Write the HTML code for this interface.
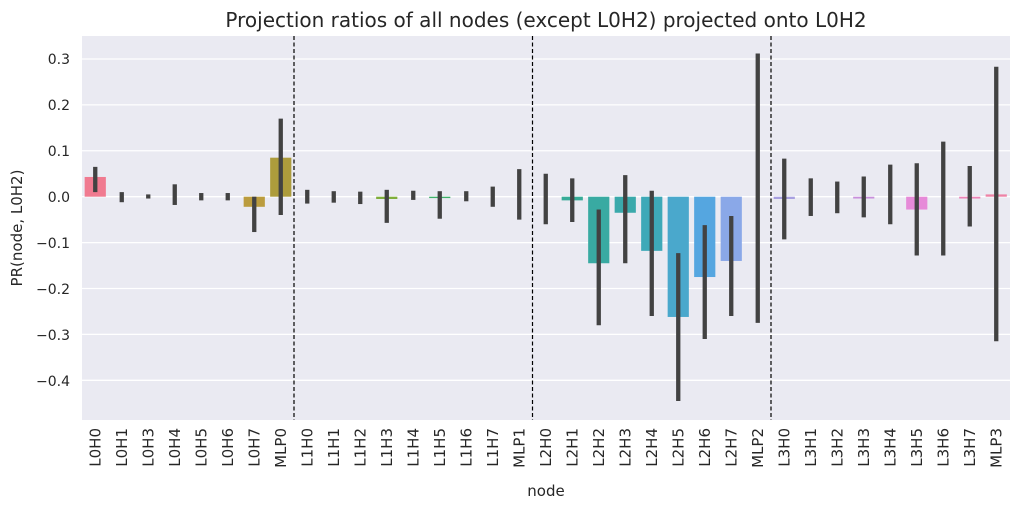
<!DOCTYPE html>
<html><head><meta charset="utf-8"><style>
html,body{margin:0;padding:0;background:#fff;}
svg{display:block;font-family:"DejaVu Sans","Liberation Sans",sans-serif;}
</style></head><body>
<svg width="1020" height="509" viewBox="0 0 1020 509">
<rect x="82" y="36" width="928" height="384" fill="#eaeaf2"/>
<g stroke="#fff" stroke-width="1.3">
<line x1="82" x2="1010" y1="58.98" y2="58.98"/>
<line x1="82" x2="1010" y1="104.88" y2="104.88"/>
<line x1="82" x2="1010" y1="150.78" y2="150.78"/>
<line x1="82" x2="1010" y1="196.7" y2="196.7"/>
<line x1="82" x2="1010" y1="242.6" y2="242.6"/>
<line x1="82" x2="1010" y1="288.5" y2="288.5"/>
<line x1="82" x2="1010" y1="334.4" y2="334.4"/>
<line x1="82" x2="1010" y1="380.3" y2="380.3"/>
</g>
<g font-size="14" fill="#262626" text-anchor="end">
<text x="70" y="64">0.3</text>
<text x="70" y="110">0.2</text>
<text x="70" y="156">0.1</text>
<text x="70" y="202">0.0</text>
<text x="70" y="248">−0.1</text>
<text x="70" y="294">−0.2</text>
<text x="70" y="340">−0.3</text>
<text x="70" y="386">−0.4</text>
</g>
<g transform="translate(0,196.7) scale(1,-459)" stroke-width="1" vector-effect="non-scaling-stroke">
<rect x="84.65" y="0" width="21.2" height="0.043" fill="#f07a90"/>
<rect x="243.65" y="-0.022" width="21.2" height="0.022" fill="#bb9c3e"/>
<rect x="270.15" y="0" width="21.2" height="0.085" fill="#ad9c3c"/>
<rect x="376.15" y="-0.005" width="21.2" height="0.005" fill="#7fae3c"/>
<rect x="429.15" y="-0.003" width="21.2" height="0.003" fill="#3eb06a"/>
<rect x="561.65" y="-0.008" width="21.2" height="0.008" fill="#37ab98"/>
<rect x="588.15" y="-0.145" width="21.2" height="0.145" fill="#39aaa2"/>
<rect x="614.65" y="-0.035" width="21.2" height="0.035" fill="#3aa9ab"/>
<rect x="641.15" y="-0.118" width="21.2" height="0.118" fill="#3ea9b8"/>
<rect x="667.65" y="-0.262" width="21.2" height="0.262" fill="#4aa8cc"/>
<rect x="694.15" y="-0.175" width="21.2" height="0.175" fill="#55a6e0"/>
<rect x="720.65" y="-0.14" width="21.2" height="0.14" fill="#8aa8e8"/>
<rect x="773.65" y="-0.005" width="21.2" height="0.005" fill="#a8a0e0"/>
<rect x="853.15" y="-0.004" width="21.2" height="0.004" fill="#c890dc"/>
<rect x="906.15" y="-0.028" width="21.2" height="0.028" fill="#e68ad8"/>
<rect x="959.15" y="-0.004" width="21.2" height="0.004" fill="#ec84b8"/>
<rect x="985.65" y="0" width="21.2" height="0.005" fill="#ee82a6"/>
</g>
<g stroke="#000" stroke-width="1.2" stroke-dasharray="4,2.5">
<line x1="294" x2="294" y1="36" y2="420"/>
<line x1="532.5" x2="532.5" y1="36" y2="420"/>
<line x1="771" x2="771" y1="36" y2="420"/>
</g>
<g transform="translate(0,196.7) scale(1,-459)" stroke="#424242" stroke-width="4.3">
<line vector-effect="non-scaling-stroke" x1="95.25" x2="95.25" y1="0.01" y2="0.065"/>
<line vector-effect="non-scaling-stroke" x1="121.75" x2="121.75" y1="-0.012" y2="0.01"/>
<line vector-effect="non-scaling-stroke" x1="148.25" x2="148.25" y1="-0.004" y2="0.005"/>
<line vector-effect="non-scaling-stroke" x1="174.75" x2="174.75" y1="-0.018" y2="0.027"/>
<line vector-effect="non-scaling-stroke" x1="201.25" x2="201.25" y1="-0.008" y2="0.008"/>
<line vector-effect="non-scaling-stroke" x1="227.75" x2="227.75" y1="-0.008" y2="0.008"/>
<line vector-effect="non-scaling-stroke" x1="254.25" x2="254.25" y1="-0.077" y2="0"/>
<line vector-effect="non-scaling-stroke" x1="280.75" x2="280.75" y1="-0.04" y2="0.17"/>
<line vector-effect="non-scaling-stroke" x1="307.25" x2="307.25" y1="-0.015" y2="0.015"/>
<line vector-effect="non-scaling-stroke" x1="333.75" x2="333.75" y1="-0.013" y2="0.012"/>
<line vector-effect="non-scaling-stroke" x1="360.25" x2="360.25" y1="-0.016" y2="0.011"/>
<line vector-effect="non-scaling-stroke" x1="386.75" x2="386.75" y1="-0.057" y2="0.015"/>
<line vector-effect="non-scaling-stroke" x1="413.25" x2="413.25" y1="-0.007" y2="0.013"/>
<line vector-effect="non-scaling-stroke" x1="439.75" x2="439.75" y1="-0.048" y2="0.012"/>
<line vector-effect="non-scaling-stroke" x1="466.25" x2="466.25" y1="-0.01" y2="0.012"/>
<line vector-effect="non-scaling-stroke" x1="492.75" x2="492.75" y1="-0.022" y2="0.022"/>
<line vector-effect="non-scaling-stroke" x1="519.25" x2="519.25" y1="-0.05" y2="0.06"/>
<line vector-effect="non-scaling-stroke" x1="545.75" x2="545.75" y1="-0.06" y2="0.05"/>
<line vector-effect="non-scaling-stroke" x1="572.25" x2="572.25" y1="-0.055" y2="0.04"/>
<line vector-effect="non-scaling-stroke" x1="598.75" x2="598.75" y1="-0.28" y2="-0.028"/>
<line vector-effect="non-scaling-stroke" x1="625.25" x2="625.25" y1="-0.145" y2="0.047"/>
<line vector-effect="non-scaling-stroke" x1="651.75" x2="651.75" y1="-0.26" y2="0.013"/>
<line vector-effect="non-scaling-stroke" x1="678.25" x2="678.25" y1="-0.445" y2="-0.123"/>
<line vector-effect="non-scaling-stroke" x1="704.75" x2="704.75" y1="-0.31" y2="-0.062"/>
<line vector-effect="non-scaling-stroke" x1="731.25" x2="731.25" y1="-0.26" y2="-0.042"/>
<line vector-effect="non-scaling-stroke" x1="757.75" x2="757.75" y1="-0.275" y2="0.312"/>
<line vector-effect="non-scaling-stroke" x1="784.25" x2="784.25" y1="-0.093" y2="0.083"/>
<line vector-effect="non-scaling-stroke" x1="810.75" x2="810.75" y1="-0.042" y2="0.04"/>
<line vector-effect="non-scaling-stroke" x1="837.25" x2="837.25" y1="-0.036" y2="0.033"/>
<line vector-effect="non-scaling-stroke" x1="863.75" x2="863.75" y1="-0.045" y2="0.044"/>
<line vector-effect="non-scaling-stroke" x1="890.25" x2="890.25" y1="-0.06" y2="0.07"/>
<line vector-effect="non-scaling-stroke" x1="916.75" x2="916.75" y1="-0.128" y2="0.073"/>
<line vector-effect="non-scaling-stroke" x1="943.25" x2="943.25" y1="-0.128" y2="0.12"/>
<line vector-effect="non-scaling-stroke" x1="969.75" x2="969.75" y1="-0.065" y2="0.067"/>
<line vector-effect="non-scaling-stroke" x1="996.25" x2="996.25" y1="-0.315" y2="0.283"/>
</g>
<g font-size="15" fill="#262626" text-anchor="end">
<text transform="translate(100.5,428) rotate(-90)">L0H0</text>
<text transform="translate(127,428) rotate(-90)">L0H1</text>
<text transform="translate(153.5,428) rotate(-90)">L0H3</text>
<text transform="translate(180,428) rotate(-90)">L0H4</text>
<text transform="translate(206.5,428) rotate(-90)">L0H5</text>
<text transform="translate(233,428) rotate(-90)">L0H6</text>
<text transform="translate(259.5,428) rotate(-90)">L0H7</text>
<text transform="translate(286,428) rotate(-90)">MLP0</text>
<text transform="translate(312.5,428) rotate(-90)">L1H0</text>
<text transform="translate(339,428) rotate(-90)">L1H1</text>
<text transform="translate(365.5,428) rotate(-90)">L1H2</text>
<text transform="translate(392,428) rotate(-90)">L1H3</text>
<text transform="translate(418.5,428) rotate(-90)">L1H4</text>
<text transform="translate(445,428) rotate(-90)">L1H5</text>
<text transform="translate(471.5,428) rotate(-90)">L1H6</text>
<text transform="translate(498,428) rotate(-90)">L1H7</text>
<text transform="translate(524.5,428) rotate(-90)">MLP1</text>
<text transform="translate(551,428) rotate(-90)">L2H0</text>
<text transform="translate(577.5,428) rotate(-90)">L2H1</text>
<text transform="translate(604,428) rotate(-90)">L2H2</text>
<text transform="translate(630.5,428) rotate(-90)">L2H3</text>
<text transform="translate(657,428) rotate(-90)">L2H4</text>
<text transform="translate(683.5,428) rotate(-90)">L2H5</text>
<text transform="translate(710,428) rotate(-90)">L2H6</text>
<text transform="translate(736.5,428) rotate(-90)">L2H7</text>
<text transform="translate(763,428) rotate(-90)">MLP2</text>
<text transform="translate(789.5,428) rotate(-90)">L3H0</text>
<text transform="translate(816,428) rotate(-90)">L3H1</text>
<text transform="translate(842.5,428) rotate(-90)">L3H2</text>
<text transform="translate(869,428) rotate(-90)">L3H3</text>
<text transform="translate(895.5,428) rotate(-90)">L3H4</text>
<text transform="translate(922,428) rotate(-90)">L3H5</text>
<text transform="translate(948.5,428) rotate(-90)">L3H6</text>
<text transform="translate(975,428) rotate(-90)">L3H7</text>
<text transform="translate(1001.5,428) rotate(-90)">MLP3</text>
</g>
<text x="546" y="496" font-size="15" fill="#262626" text-anchor="middle">node</text>
<text transform="translate(22,228) rotate(-90)" font-size="15" fill="#262626" text-anchor="middle">PR(node, L0H2)</text>
<text x="546" y="27" font-size="20" fill="#262626" text-anchor="middle">Projection ratios of all nodes (except L0H2) projected onto L0H2</text>
</svg>
</body></html>
